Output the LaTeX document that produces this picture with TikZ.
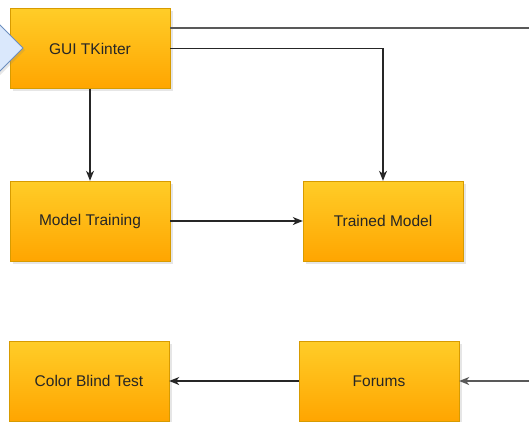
\documentclass[tikz,border=0pt]{standalone}
\usepackage{fontspec}
\setmainfont{Liberation Sans}
\usetikzlibrary{arrows.meta, positioning, shadows}
\definecolor{orangetop}{HTML}{FFCD28}
\definecolor{orangebot}{HTML}{FFA500}
\definecolor{orangeline}{HTML}{D79B00}
\definecolor{bluefill}{HTML}{DAE8FC}
\definecolor{blueline}{HTML}{6C8EBF}
\tikzstyle{block}=[rectangle, draw=orangeline, top color=orangetop, bottom color=orangebot, minimum width=160pt, minimum height=80pt, font=\fontsize{15.5}{18}\selectfont, text=black!85, drop shadow={shadow xshift=2.5pt, shadow yshift=-2.5pt, opacity=0.2}]
\tikzstyle{link}=[draw=black!85, line width=1.2pt, -{Stealth[length=10pt, width=8pt, inset=3pt]}]

\begin{document}
\begin{tikzpicture}[x=1pt, y=-1pt]
    \useasboundingbox (0,0) rectangle (529,421);
    \clip (0,0) rectangle (529,421);

    % Blocks:
    \node[block] (gui) at (90,48.5) {GUI TKinter};
    \node[block] (train) [below of=gui, node distance=172.5pt] {Model Training};
    \node[block] (model) [right of=train, node distance=293pt] {Trained Model};
    \node[block] (cbt) [below of=train, node distance=160pt, xshift=-1pt] {Color Blind Test};
    \node[block] (forums) [right of=cbt, node distance=290pt] {Forums};

    % Input:
    \filldraw[fill=bluefill, draw=blueline, line width=1pt, drop shadow={shadow xshift=2pt, shadow yshift=-2pt, opacity=0.2}] (-60,10) -- (-15,10) -- (23,48) -- (-15,86) -- (-60,86) -- cycle;

    % Links:
    \draw[link] (gui) -- (train);
    \draw[link] (train) -- (model);
    \draw[link] (gui.east) -| (model.north);
    \draw[link] (forums) -- (cbt);
    \coordinate (offtop) at (536,28);
    \coordinate (offbottom) at (536,381);
    \draw[link, draw=black!65] ([yshift=20.5pt]gui.east) -- (offtop) -- (offbottom) -- (forums.east);
\end{tikzpicture}
\end{document}
